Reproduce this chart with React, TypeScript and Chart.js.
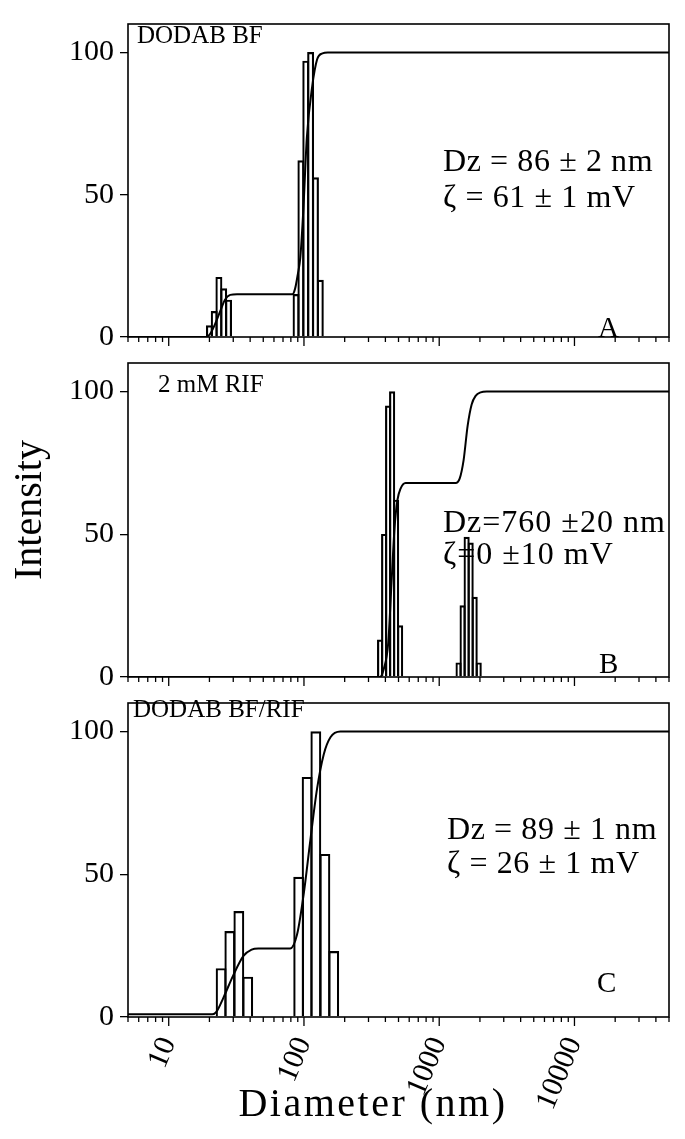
import React, { useEffect, useRef } from "react";
import { Chart, registerables } from "chart.js";

Chart.register(...registerables);

// ---------- data ----------
const X_MIN = 5;
const X_MAX = 50000;
const X_MAJOR = [10, 100, 1000, 10000];
const X_TICK_LABELS = ["10", "100", "1000", "10000"];
const X_MINOR_MULT = [2, 3, 4, 5, 6, 7, 8, 9];
const Y_TICKS = [0, 50, 100];
const Y_MAX = 110;

// Panel A: DODAB BF
const A_BAR_D = [20.0, 21.7, 23.5, 25.5, 27.7, 87.4, 94.9, 103.1, 112.0, 121.6, 132.1];
const A_BAR_I = [4, 9, 21, 17, 13, 15, 62, 97, 100, 56, 20];
const A_CUM_D = [5, 19, 20.5, 22, 24, 26, 28.5, 32, 82, 86, 90, 94, 99, 105, 115, 125, 137, 150, 50000];
const A_CUM_I = [0, 0, 1.5, 4.5, 9, 13, 14.8, 15, 15, 17, 22, 28, 45, 70, 88, 97.5, 99.7, 100, 100];

// Panel B: 2 mM RIF
const B_BAR_D = [365.6, 391.5, 419, 448.6, 480, 514, 1390, 1489, 1595, 1708, 1829, 1959];
const B_BAR_I = [13, 50, 95, 100, 62, 18, 5, 25, 49, 47, 28, 5];
const B_CUM_D = [5, 364, 390, 420, 444, 467, 491, 518, 564, 1322, 1416, 1515, 1622, 1737, 1859, 2024, 2244, 50000];
const B_CUM_I = [0, 0, 3, 12, 33, 52, 62, 66, 68, 68, 69.5, 76, 88, 95.5, 98.5, 99.7, 100, 100];

// Panel C: DODAB BF/RIF
const C_BAR_D = [24.4, 28.3, 33.0, 38.4, 91.4, 105.5, 122.4, 142.8, 166];
const C_BAR_I = [17, 30, 37, 14, 49, 84, 100, 57, 23];
const C_CUM_D = [5, 21, 22.5, 25.4, 30, 35.7, 41, 46, 79, 89, 99.5, 111.5, 125, 140, 157, 186, 50000];
const C_CUM_I = [1, 1, 1.8, 6.8, 14.6, 21.4, 23.6, 24, 24, 29, 43, 62, 80, 92, 98, 100, 100];

// ---------- layout ----------
const W = 685;
const PLOT_LEFT = 128;
const PAD_RIGHT = 16;
const BAR_BORDER = 1.5;
const SERIF = "'Liberation Serif', 'Times New Roman', serif";

Chart.defaults.font.family = SERIF;
Chart.defaults.color = "#000";

const X_TICK_VALUES: number[] = [];
[1, 10, 100, 1000, 10000].forEach((dec) => {
  [1, ...X_MINOR_MULT].forEach((m) => {
    const v = dec * m;
    if (v >= X_MIN && v <= X_MAX) X_TICK_VALUES.push(v);
  });
});

const framePlugin = {
  id: "frame",
  afterDraw(chart: any) {
    const { ctx, chartArea: a, scales } = chart;
    ctx.save();
    ctx.strokeStyle = "#000";
    ctx.lineWidth = 1.6;
    ctx.strokeRect(a.left, a.top, a.right - a.left, a.bottom - a.top);
    const xs = scales.x;
    ctx.lineWidth = 1.3;
    for (const t of xs.ticks) {
      const px = xs.getPixelForValue(t.value);
      const len = X_MAJOR.includes(t.value) ? 9 : 5;
      ctx.beginPath();
      ctx.moveTo(px, a.bottom);
      ctx.lineTo(px, a.bottom + len);
      ctx.stroke();
    }
    ctx.restore();
  },
};

type PanelProps = {
  canvasTop: number;
  canvasH: number;
  padTop: number;
  axisH: number;
  barD: number[];
  barI: number[];
  cumD: number[];
  cumI: number[];
  barPx: number;
  showX: boolean;
};

function Panel(p: PanelProps) {
  const ref = useRef<HTMLCanvasElement | null>(null);
  useEffect(() => {
    if (!ref.current) return;
    const chart = new Chart(ref.current, {
      type: "bar",
      data: {
        datasets: [
          {
            type: "line",
            data: p.cumD.map((d, i) => ({ x: d, y: p.cumI[i] })),
            borderColor: "#000",
            borderWidth: 2,
            pointRadius: 0,
            cubicInterpolationMode: "monotone",
            fill: false,
            order: 0,
          } as any,
          {
            type: "bar",
            data: p.barD.map((d, i) => ({ x: d, y: p.barI[i] })),
            backgroundColor: "rgba(255,255,255,0)",
            borderColor: "#000",
            borderWidth: BAR_BORDER,
            barThickness: p.barPx + BAR_BORDER,
            borderSkipped: "bottom",
            order: 1,
          } as any,
        ],
      },
      options: {
        responsive: false,
        animation: false,
        layout: { autoPadding: false, padding: { top: p.padTop, right: PAD_RIGHT, left: 0, bottom: 0 } },
        plugins: { legend: { display: false }, tooltip: { enabled: false } },
        scales: {
          x: {
            type: "logarithmic",
            min: X_MIN,
            max: X_MAX,
            offset: false,
            afterBuildTicks: (s: any) => {
              s.ticks = X_TICK_VALUES.map((v) => ({ value: v, major: X_MAJOR.includes(v) }));
            },
            afterFit: (s: any) => {
              s.height = p.axisH;
              s.paddingLeft = 0;
              s.paddingRight = 0;
            },
            grid: { display: false, drawTicks: false, offset: false },
            border: { display: false },
            ticks: {
              display: p.showX,
              autoSkip: false,
              minRotation: 67,
              maxRotation: 67,
              padding: 15,
              color: "#000",
              font: { size: 30, family: SERIF },
              callback: (v: any) => {
                const idx = X_MAJOR.indexOf(Number(v));
                return idx >= 0 ? X_TICK_LABELS[idx] : "";
              },
            },
          } as any,
          y: {
            min: 0,
            max: Y_MAX,
            afterBuildTicks: (s: any) => {
              s.ticks = Y_TICKS.map((v) => ({ value: v }));
            },
            afterFit: (s: any) => {
              s.width = PLOT_LEFT;
            },
            grid: { drawOnChartArea: false, drawTicks: true, tickLength: 8, color: "#000", lineWidth: 1.3 },
            border: { display: false },
            ticks: { color: "#000", padding: 6, font: { size: 30, family: SERIF } },
          } as any,
        },
      },
      plugins: [framePlugin],
    });
    return () => chart.destroy();
  }, []);
  return (
    <canvas
      ref={ref}
      width={W}
      height={p.canvasH}
      style={{ position: "absolute", left: 0, top: p.canvasTop, width: W, height: p.canvasH }}
    />
  );
}

const txt = (text: string, left: number, top: number, size: number, extra: any = {}) => (
  <div
    style={{
      position: "absolute",
      left,
      top,
      fontSize: size,
      lineHeight: 1,
      fontFamily: SERIF,
      whiteSpace: "nowrap",
      color: "#000",
      ...extra,
    }}
  >
    {text}
  </div>
);

export default function App() {
  return (
    <div style={{ position: "absolute", left: 0, top: 0, width: W, height: 1139, background: "#fff", overflow: "hidden" }}>
      <Panel canvasTop={0} canvasH={361} padTop={12} axisH={12} barD={A_BAR_D} barI={A_BAR_I} cumD={A_CUM_D} cumI={A_CUM_I} barPx={4.8} showX={false} />
      <Panel canvasTop={339} canvasH={362} padTop={10} axisH={12} barD={B_BAR_D} barI={B_BAR_I} cumD={B_CUM_D} cumI={B_CUM_I} barPx={4} showX={false} />
      <Panel canvasTop={679} canvasH={460} padTop={10} axisH={122} barD={C_BAR_D} barI={C_BAR_I} cumD={C_CUM_D} cumI={C_CUM_I} barPx={8.7} showX={true} />

      {txt("DODAB BF", 137, 22, 25)}
      {txt("Dz = 86 ± 2 nm", 443, 144, 32, { letterSpacing: "0.6px" })}
      {txt("ζ = 61 ± 1 mV", 443, 180, 32, { letterSpacing: "0.6px" })}
      {txt("A", 598, 313, 29)}

      {txt("2 mM RIF", 158, 371, 25)}
      {txt("Dz=760 ±20 nm", 443, 505, 32, { letterSpacing: "1px" })}
      {txt("ζ=0 ±10 mV", 443, 537, 32, { letterSpacing: "1px" })}
      {txt("B", 599, 649, 29)}

      {txt("DODAB BF/RIF", 133, 696, 25)}
      {txt("Dz = 89 ± 1 nm", 447, 812, 32, { letterSpacing: "0.6px" })}
      {txt("ζ = 26 ± 1 mV", 447, 846, 32, { letterSpacing: "0.6px" })}
      {txt("C", 597, 968, 29)}

      {txt("Intensity", 28 - 100, 510 - 20, 40, { width: 200, textAlign: "center", transform: "rotate(-90deg)" })}
      {txt("Diameter (nm)", 373 - 200, 1103 - 20, 40, { width: 400, textAlign: "center", letterSpacing: "2.5px" })}
    </div>
  );
}
